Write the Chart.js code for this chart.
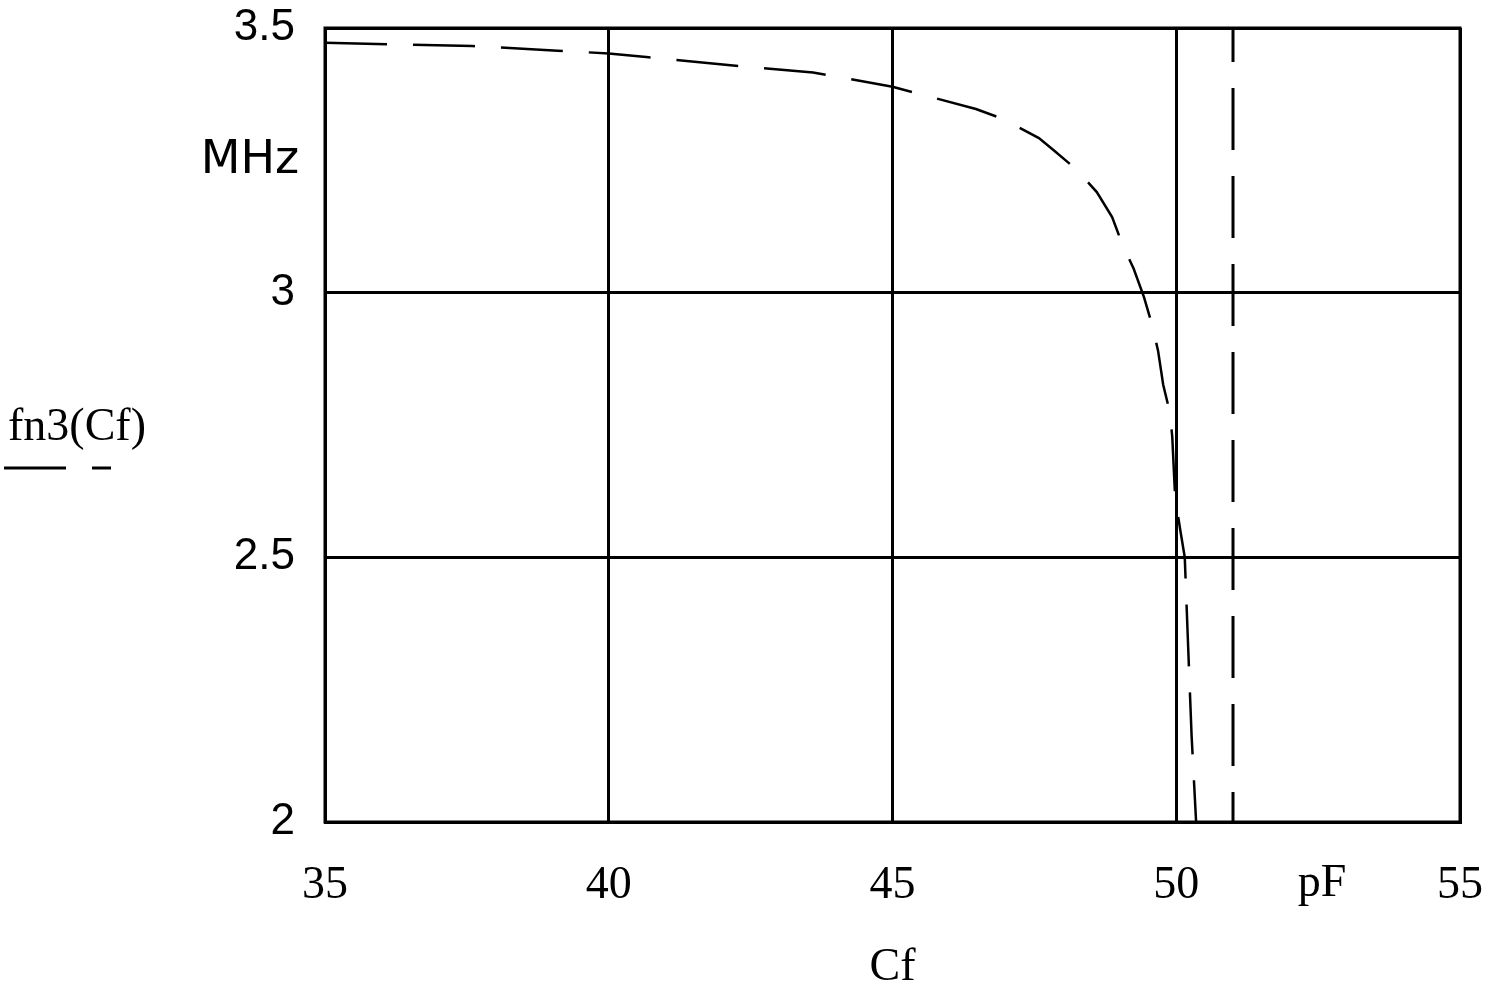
<!DOCTYPE html>
<html>
<head>
<meta charset="utf-8">
<script src="https://cdn.jsdelivr.net/npm/chart.js@4.4.1/dist/chart.umd.min.js"></script>
<style>
html,body{margin:0;padding:0;background:#fff;}
#wrap{width:1499px;height:1000px;position:relative;}
</style>
</head>
<body>
<div id="wrap"><canvas id="c" width="1499" height="1000"></canvas></div>
<script>
// Data
const cfValues = [35, 37.6, 39.1, 40, 40.66, 42.1, 43.6, 45, 46.47, 46.95, 47.58, 47.83, 48.25, 48.6, 48.87, 49.04, 49.25, 49.43, 49.57, 49.68, 49.77, 49.89, 49.93, 49.98, 50.07, 50.15, 50.21, 50.27, 50.35];
const fn3Values = [3.472, 3.466, 3.457, 3.452, 3.445, 3.430, 3.416, 3.389, 3.347, 3.328, 3.292, 3.270, 3.232, 3.19, 3.143, 3.094, 3.045, 2.992, 2.941, 2.89, 2.826, 2.773, 2.727, 2.614, 2.552, 2.50, 2.33, 2.164, 2.0];
const markerCf = [51, 51];
const markerY = [3.5, 2];
const xTicks = [35, 40, 45, 50, 55];
const yTicks = [2, 2.5, 3, 3.5];
const yTickLabels = {2: '2', 2.5: '2.5', 3: '3', 3.5: '3.5'};

const curve = cfValues.map((c, i) => ({x: c, y: fn3Values[i]}));
const marker = markerCf.map((c, i) => ({x: c, y: markerY[i]}));

const extras = {
  id: 'extras',
  afterDraw(chart) {
    const ctx = chart.ctx;
    const a = chart.chartArea;
    ctx.save();
    ctx.strokeStyle = '#000';
    ctx.lineWidth = 3;
    ctx.strokeRect(a.left, a.top, a.right - a.left, a.bottom - a.top);
    ctx.fillStyle = '#000';
    ctx.textBaseline = 'middle';
    ctx.textAlign = 'center';
    ctx.font = '46px "Liberation Serif"';
    ctx.fillText('pF', 1322, 884);
    ctx.font = '46px "DejaVu Sans"';
    ctx.fillText('MHz', 250, 161);
    ctx.textAlign = 'left';
    ctx.font = '46px "Liberation Serif"';
    ctx.fillText('fn3(Cf)', 8, 428);
    ctx.lineWidth = 3;
    ctx.beginPath();
    ctx.moveTo(4, 468); ctx.lineTo(66, 468);
    ctx.moveTo(92, 468); ctx.lineTo(111, 468);
    ctx.stroke();
    ctx.restore();
  }
};

new Chart(document.getElementById('c'), {
  type: 'line',
  data: {
    datasets: [
      {data: curve, borderColor: '#000', borderWidth: 2.5, borderDash: [62, 26], pointRadius: 0, fill: false, tension: 0},
      {data: marker, borderColor: '#000', borderWidth: 3, borderDash: [62, 26], borderDashOffset: 28, pointRadius: 0, fill: false}
    ]
  },
  options: {
    responsive: false,
    animation: false,
    layout: {padding: {top: 28, right: 39, left: 0, bottom: 0}},
    plugins: {legend: {display: false}, tooltip: {enabled: false}},
    scales: {
      x: {
        type: 'linear', min: 35, max: 55,
        afterBuildTicks(s) { s.ticks = xTicks.map(v => ({value: v})); },
        afterFit(s) { s.height = 178; s.paddingLeft = 0; s.paddingRight = 0; },
        grid: {color: '#000', lineWidth: 3, drawTicks: false},
        border: {display: true, color: '#000', width: 3},
        ticks: {color: '#000', padding: 36, maxRotation: 0, font: {family: 'Liberation Serif', size: 46}},
        title: {display: true, text: 'Cf', color: '#000', padding: {top: 10}, font: {family: 'Liberation Serif', size: 46}}
      },
      y: {
        type: 'linear', min: 2, max: 3.5,
        afterBuildTicks(s) { s.ticks = yTicks.map(v => ({value: v})); },
        afterFit(s) { s.width = 325; s.paddingTop = 0; s.paddingBottom = 0; },
        grid: {color: '#000', lineWidth: 3, drawTicks: false},
        border: {display: true, color: '#000', width: 3},
        ticks: {color: '#000', padding: 30, font: {family: 'Liberation Sans', size: 44}, callback: v => yTickLabels[v] ?? ''}
      }
    }
  },
  plugins: [extras]
});
</script>
</body>
</html>
